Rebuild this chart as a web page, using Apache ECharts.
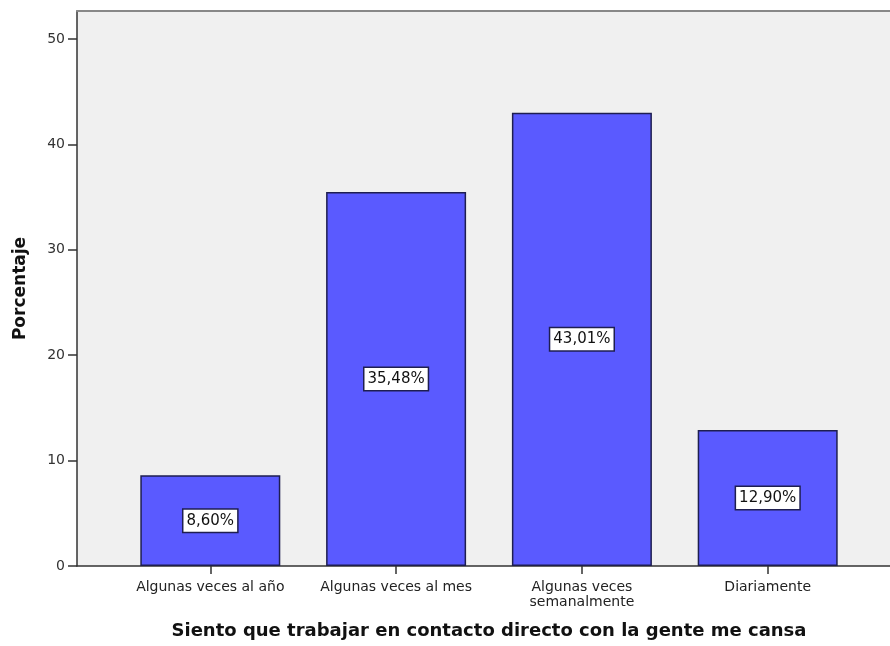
<!DOCTYPE html>
<html>
<head>
<meta charset="utf-8">
<script src="https://cdn.jsdelivr.net/npm/echarts@6/dist/echarts.min.js"></script>
<style>
  html, body { margin: 0; padding: 0; background: #ffffff; }
  #chart { width: 890px; height: 646px; }
</style>
</head>
<body>
<div id="chart"></div>
<script>
// Response categories and percentages
const categories = ['Algunas veces al año', 'Algunas veces al mes', 'Algunas veces\nsemanalmente', 'Diariamente'];
const percentages = [8.60, 35.48, 43.01, 12.90];
const yTicks = [0, 10, 20, 30, 40, 50];

const yMax = 52.66;
const fmtPct = v => v.toFixed(2).replace('.', ',') + '%';
const FONT = '"DejaVu Sans", Verdana, sans-serif';

const chart = echarts.init(document.getElementById('chart'), null, { renderer: 'canvas' });

chart.setOption({
  animation: false,
  backgroundColor: '#ffffff',
  textStyle: { fontFamily: FONT },
  grid: [
    // plot frame and value axis
    { left: 77, right: -11, top: 11, bottom: 80, show: true, backgroundColor: '#f0f0f0', borderWidth: 0,
      containLabel: false, outerBoundsMode: 'none' },
    // category bands
    { left: 117.4, right: 29.4, top: 11, bottom: 80, containLabel: false, outerBoundsMode: 'none' }
  ],
  xAxis: [
    {
      gridIndex: 0, type: 'value', min: 0, max: 1,
      axisLine: { show: true, lineStyle: { color: '#333', width: 1.5 } },
      axisTick: { show: false }, axisLabel: { show: false }, splitLine: { show: false }
    },
    {
      gridIndex: 1, type: 'category', data: categories,
      axisLine: { show: false },
      axisTick: { show: true, alignWithLabel: true, length: 8, lineStyle: { color: '#333', width: 1.5 } },
      axisLabel: { color: '#222', fontSize: 14, lineHeight: 15, margin: 14, interval: 0, fontFamily: FONT },
      name: 'Siento que trabajar en contacto directo con la gente me cansa',
      nameLocation: 'middle', nameGap: 56,
      nameTextStyle: { fontSize: 18, fontWeight: 'bold', color: '#111', fontFamily: FONT }
    },
    {
      // top frame line
      gridIndex: 0, type: 'value', position: 'top', min: 0, max: 1,
      axisLine: { show: true, lineStyle: { color: '#888', width: 2 } },
      axisTick: { show: false }, axisLabel: { show: false }, splitLine: { show: false }
    }
  ],
  yAxis: [
    {
      gridIndex: 0, type: 'value', min: 0, max: yMax,
      axisLine: { show: true, lineStyle: { color: '#333', width: 1.5 } },
      axisTick: { show: true, length: 9, customValues: yTicks, lineStyle: { color: '#333', width: 1.5 } },
      axisLabel: { color: '#333', fontSize: 14, margin: 12, customValues: yTicks, fontFamily: FONT },
      splitLine: { show: false },
      name: 'Porcentaje', nameLocation: 'middle', nameGap: 48, nameRotate: 90,
      nameTextStyle: { fontSize: 17, fontWeight: 'bold', color: '#111', fontFamily: FONT }
    },
    {
      gridIndex: 1, type: 'value', min: 0, max: yMax, show: false
    }
  ],
  series: [
    {
      type: 'bar',
      xAxisIndex: 1, yAxisIndex: 1,
      data: percentages,
      barWidth: 140,
      itemStyle: { color: '#5a5aff', borderColor: '#1e1e50', borderWidth: 1.5 },
      label: {
        show: true, position: 'inside',
        formatter: p => fmtPct(p.value),
        color: '#111', fontSize: 15, fontFamily: FONT,
        backgroundColor: '#ffffff', borderColor: '#1e1e50', borderWidth: 1.5,
        padding: [4, 3, 3, 3]
      }
    }
  ]
});
</script>
</body>
</html>
